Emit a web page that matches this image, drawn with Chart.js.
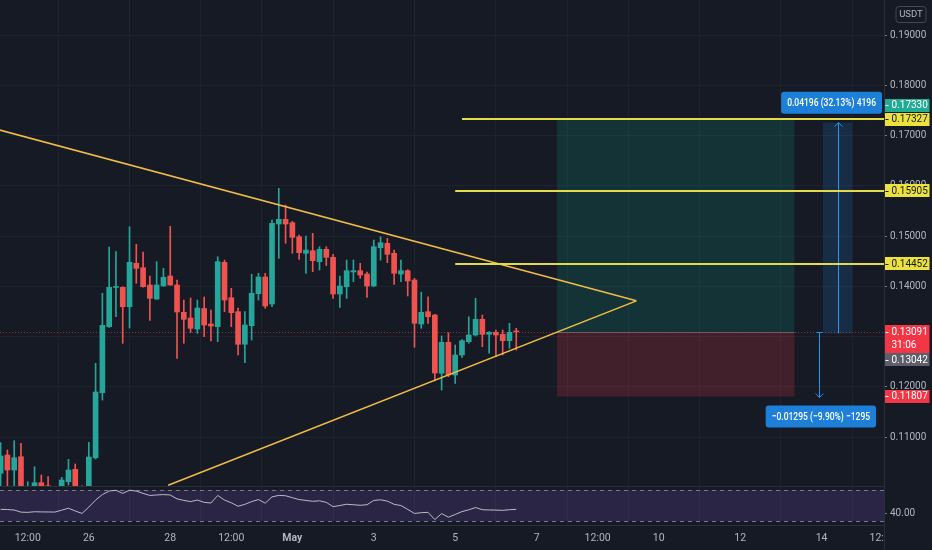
<!DOCTYPE html>
<html>
<head>
<meta charset="utf-8">
<title>USDT pair 4h</title>
<script src="https://cdn.jsdelivr.net/npm/chart.js@4.4.0/dist/chart.umd.min.js"></script>
<style>
  html, body { margin: 0; padding: 0; background: #161a25; }
  #wrap { width: 932px; height: 550px; position: relative; }
</style>
</head>
<body>
<div id="wrap"><canvas id="chart"></canvas></div>
<script>
// 4h bar slots, counted from 26 Apr 00:00 (slot 0)
const slots = [-13, -12, -11, -10, -9, -8, -7, -6, -5, -4, -3, -2, -1,
  0, 1, 2, 3, 4, 5, 6, 7, 8, 9, 10, 11, 12, 13, 14, 15, 16, 17, 18, 19,
  20, 21, 22, 23, 24, 25, 26, 27, 28, 29, 30, 31, 32, 33, 34, 35, 36, 37, 38, 39,
  40, 41, 42, 43, 44, 45, 46, 47, 48, 49, 50, 51, 52, 53, 54, 55, 56, 57, 58, 59,
  60, 61, 62, 63];

const opens = [0.10278, 0.10642, 0.10343, 0.10608, 0.0997, 0.0998, 0.10091, 0.1003, 0.0992, 0.0996, 0.10111, 0.10357, 0.0999,
  0.0995, 0.10588, 0.11882, 0.13195, 0.13975, 0.13979, 0.13593, 0.14457, 0.14369, 0.14025, 0.13746, 0.14005, 0.14204, 0.14025, 0.13482, 0.13368, 0.13149, 0.13557, 0.13249, 0.13195,
  0.14477, 0.13772, 0.13494, 0.12845, 0.13215, 0.13852, 0.14184, 0.13647, 0.15239, 0.15332, 0.15265, 0.14986, 0.14656, 0.14707, 0.14489, 0.14735, 0.14576, 0.13846, 0.13991, 0.14284,
  0.14310, 0.14244, 0.14005, 0.14767, 0.14855, 0.14656, 0.14244, 0.14310, 0.14124, 0.13249, 0.13494, 0.13428, 0.12268, 0.12885, 0.12234, 0.12632, 0.12897, 0.13030, 0.13342, 0.13044,
  0.13084, 0.13044, 0.12917, 0.13100];

const highs = [0.10887, 0.10741, 0.10927, 0.10875, 0.10111, 0.10409, 0.10244, 0.10210, 0.1002, 0.10198, 0.10556, 0.10463, 0.1003,
  0.10895, 0.12467, 0.13860, 0.14781, 0.14688, 0.13990, 0.15185, 0.14835, 0.14682, 0.14204, 0.14489, 0.14357, 0.15193, 0.14124, 0.13726, 0.13766, 0.13726, 0.13786, 0.13527, 0.14588,
  0.14522, 0.13959, 0.13567, 0.13494, 0.14238, 0.14258, 0.14258, 0.15318, 0.15949, 0.15617, 0.15290, 0.15020, 0.15000, 0.15054, 0.14787, 0.14787, 0.14636, 0.14204, 0.14522, 0.14522,
  0.14457, 0.14280, 0.14920, 0.14986, 0.14954, 0.14721, 0.14522, 0.14330, 0.14158, 0.13882, 0.13792, 0.13440, 0.13010, 0.13076, 0.12831, 0.12940, 0.13394, 0.13760, 0.13428, 0.13100,
  0.13130, 0.13130, 0.13263, 0.13163];

const lows = [0.0995, 0.0998, 0.0998, 0.0990, 0.0985, 0.0990, 0.0992, 0.0985, 0.0980, 0.0990, 0.10045, 0.0992, 0.0988,
  0.0990, 0.10562, 0.11736, 0.13179, 0.13394, 0.12865, 0.13169, 0.14059, 0.13980, 0.13319, 0.13740, 0.14000, 0.14020, 0.12566, 0.12865, 0.13080, 0.13064, 0.12996, 0.12911, 0.12897,
  0.13494, 0.13195, 0.12632, 0.12479, 0.12930, 0.13726, 0.13561, 0.13593, 0.14556, 0.14855, 0.14656, 0.14536, 0.14258, 0.14290, 0.14323, 0.14413, 0.13760, 0.13581, 0.13760, 0.14091,
  0.14158, 0.13780, 0.13990, 0.14522, 0.14469, 0.14039, 0.14091, 0.13806, 0.12785, 0.13163, 0.13263, 0.12115, 0.11935, 0.12200, 0.12065, 0.12586, 0.12865, 0.13010, 0.12797, 0.12666,
  0.12598, 0.12632, 0.12765, 0.12731];

const closes = [0.10622, 0.10343, 0.10588, 0.0996, 0.1001, 0.10091, 0.0998, 0.0992, 0.0996, 0.10144, 0.10343, 0.0999, 0.0995,
  0.10602, 0.11896, 0.13223, 0.13979, 0.13982, 0.13593, 0.14477, 0.14357, 0.13991, 0.13760, 0.14025, 0.14178, 0.14025, 0.13488, 0.13342, 0.13163, 0.13567, 0.13229, 0.13209, 0.14489,
  0.13726, 0.13474, 0.12845, 0.13229, 0.13860, 0.14184, 0.13607, 0.15253, 0.15332, 0.15239, 0.14974, 0.14668, 0.14721, 0.14509, 0.14735, 0.14576, 0.13846, 0.14005, 0.14310, 0.14310,
  0.14224, 0.14005, 0.14787, 0.14867, 0.14636, 0.14258, 0.14310, 0.14105, 0.13263, 0.13482, 0.13394, 0.12274, 0.12885, 0.12234, 0.12632, 0.12917, 0.13030, 0.13342, 0.13044, 0.13084,
  0.13030, 0.12917, 0.13084, 0.13091];

const rsiValues = [45.1, 44.8, 44.2, 41.5, 41.2, 42.0, 41.8, 41.7, 41.6, 44.0, 46.5, 43.0, 39.8,
  48.0, 57.0, 64.0, 68.6, 69.5, 65.5, 69.6, 68.5, 65.5, 62.9, 63.5, 64.0, 63.5, 58.5, 56.5, 55.0, 57.0, 54.0, 53.2, 62.9,
  57.0, 53.5, 49.0, 51.5, 55.0, 57.6, 53.0, 61.0, 63.0, 62.5, 60.0, 57.6, 56.5, 55.4, 56.0, 54.0, 48.5, 50.0, 51.6, 51.0,
  50.3, 51.0, 56.5, 57.3, 55.6, 51.5, 50.0, 45.0, 39.8, 40.8, 41.2, 32.0, 39.6, 35.0, 38.5, 42.2, 44.5, 47.4, 44.6, 44.3,
  44.1, 43.8, 44.6, 45.1];

const priceTicks = [0.11, 0.12, 0.13, 0.14, 0.15, 0.16, 0.17, 0.18, 0.19];
const rsiTicks = [40];
const timeTickSlots = [-9, 0, 12, 21, 30, 42, 54, 66, 75, 84, 96, 108, 117];
const timeTickLabels = ['12:00', '26', '28', '12:00', 'May', '3', '5', '7', '12:00', '10', '12', '14', '12:00'];

// triangle trend lines (slot, price)
const upperTrend = [{ x: -14, y: 0.1714 }, { x: 80.7, y: 0.1371 }];
const lowerTrend = [{ x: 11.7, y: 0.1004 }, { x: 80.7, y: 0.1371 }];

// horizontal target levels and the slot where each starts
const levelPrices = [0.17327, 0.15905, 0.14452];
const levelStarts = [55, 54, 54];

// long position tool
const entryPrice = 0.13091;
const targetPrice = 0.17327;
const stopPrice = 0.11807;
const positionSlots = [69, 104];

// measure tool
const measureUp = [0.13060, 0.17256];
const measureUpSlots = [108.2, 112.5];
const measureDown = [0.13080, 0.11785];
const measureDownSlot = 107.6;
const measureUpText = '0.04196 (32.13%) 4196';
const measureDownText = '\u22120.01295 (\u22129.90%) \u22121295';

const lastPrice = 0.13091;
const countdown = '31:06';
const bidPrice = 0.13042;
const measurePrice = 0.17330;

const priceRange = [0.10025, 0.19697];
const rsiRange = [25, 75];
const slotRange = [-13.09, 117.2];

const FONT = 'Roboto, "DejaVu Sans", sans-serif';
const BG = '#161a25';
const UP = '#26a69a';
const DOWN = '#ef5350';
const GRID = '#1e222d';

Chart.defaults.font.family = FONT;
Chart.defaults.font.size = 10;

const candleColors = opens.map((o, i) => closes[i] >= o ? UP : DOWN);

function roundRect(c, x, y, w, h, r) {
  c.beginPath();
  c.moveTo(x + r, y);
  c.lineTo(x + w - r, y);
  c.quadraticCurveTo(x + w, y, x + w, y + r);
  c.lineTo(x + w, y + h - r);
  c.quadraticCurveTo(x + w, y + h, x + w - r, y + h);
  c.lineTo(x + r, y + h);
  c.quadraticCurveTo(x, y + h, x, y + h - r);
  c.lineTo(x, y + r);
  c.quadraticCurveTo(x, y, x + r, y);
  c.closePath();
}

function hline(c, x1, x2, yy) {
  c.beginPath();
  c.moveTo(x1, Math.round(yy) + 0.5);
  c.lineTo(x2, Math.round(yy) + 0.5);
  c.stroke();
}

// narrow text, like the terminal's condensed labels
function narrowText(c, text, cx, cy, squeeze) {
  c.save();
  c.translate(cx, cy);
  c.scale(squeeze, 1);
  c.fillText(text, 0, 0);
  c.restore();
}

function measureLabel(c, text, cx, top, right) {
  const squeeze = 0.74;
  const w = c.measureText(text).width * squeeze + 12;
  const bx = Math.min(cx - w / 2, right - w);
  c.fillStyle = '#1e7fd9';
  roundRect(c, bx, top, w, 22, 3);
  c.fill();
  c.fillStyle = '#ffffff';
  narrowText(c, text, bx + w / 2, top + 11.5, squeeze);
}

const drawings = {
  id: 'drawings',
  beforeDraw(chart) {
    const c = chart.ctx;
    c.save();
    c.fillStyle = BG;
    c.fillRect(0, 0, chart.width, chart.height);
    c.restore();
  },
  beforeDatasetsDraw(chart) {
    const { ctx: c, chartArea: a, scales: { x, y, yr } } = chart;
    c.save();

    // RSI band
    const y70 = yr.getPixelForValue(70), y30 = yr.getPixelForValue(30);
    c.fillStyle = 'rgba(126,87,194,0.2)';
    c.fillRect(a.left, y70, a.right - a.left, y30 - y70);
    c.strokeStyle = '#787b86';
    c.lineWidth = 1;
    c.setLineDash([4, 4]);
    hline(c, a.left, a.right, y70);
    hline(c, a.left, a.right, y30);
    c.setLineDash([]);

    // pane separator
    c.strokeStyle = '#2a2e39';
    hline(c, a.left, a.right, y.bottom);

    // long position boxes
    const p1 = x.getPixelForValue(positionSlots[0]);
    const p2 = x.getPixelForValue(positionSlots[1]);
    const yT = y.getPixelForValue(targetPrice);
    const yE = y.getPixelForValue(entryPrice);
    const yS = y.getPixelForValue(stopPrice);
    c.fillStyle = 'rgba(8,153,129,0.2)';
    c.fillRect(p1, yT, p2 - p1, yE - yT);
    c.fillStyle = 'rgba(242,54,69,0.2)';
    c.fillRect(p1, yE, p2 - p1, yS - yE);
    c.strokeStyle = '#5d606b';
    hline(c, p1, p2, yE);

    // last price dotted line
    c.strokeStyle = 'rgba(242,54,69,0.6)';
    c.setLineDash([1, 2]);
    hline(c, a.left, a.right, y.getPixelForValue(lastPrice));
    c.setLineDash([]);

    // measure tool (up)
    const m1 = x.getPixelForValue(measureUpSlots[0]);
    const m2 = x.getPixelForValue(measureUpSlots[1]);
    const mTop = y.getPixelForValue(measureUp[1]);
    const mBot = y.getPixelForValue(measureUp[0]);
    c.fillStyle = 'rgba(33,150,243,0.16)';
    c.fillRect(m1, mTop, m2 - m1, mBot - mTop);
    const mc = Math.round((m1 + m2) / 2) + 0.5;
    c.strokeStyle = '#2196f3';
    c.lineWidth = 1;
    c.beginPath();
    c.moveTo(mc, mBot); c.lineTo(mc, mTop);
    c.moveTo(mc - 4, mTop + 4); c.lineTo(mc, mTop); c.lineTo(mc + 4, mTop + 4);
    c.stroke();

    // measure tool (down)
    const dx = Math.round(x.getPixelForValue(measureDownSlot)) + 0.5;
    const dTop = y.getPixelForValue(measureDown[0]);
    const dBot = y.getPixelForValue(measureDown[1]);
    c.beginPath();
    c.moveTo(dx - 3, dTop); c.lineTo(dx + 3, dTop);
    c.moveTo(dx, dTop); c.lineTo(dx, dBot);
    c.moveTo(dx - 4, dBot - 4); c.lineTo(dx, dBot); c.lineTo(dx + 4, dBot - 4);
    c.stroke();

    c.restore();
  },
  afterDatasetsDraw(chart) {
    const { ctx: c, chartArea: a, scales: { x, y } } = chart;
    c.save();
    c.strokeStyle = '#e3dc4a';
    c.lineWidth = 2;
    levelPrices.forEach((p, i) => {
      const yy = Math.round(y.getPixelForValue(p));
      c.beginPath();
      c.moveTo(x.getPixelForValue(levelStarts[i]), yy);
      c.lineTo(a.right, yy);
      c.stroke();
    });
    c.restore();
  },
  afterDraw(chart) {
    const { ctx: c, chartArea: a, scales: { x, y } } = chart;
    c.save();

    // cover the clipped corner under the price axis
    c.fillStyle = BG;
    c.fillRect(a.right + 1, a.bottom + 1, chart.width - a.right, chart.height - a.bottom);
    c.strokeStyle = '#2a2e39';
    c.lineWidth = 1;
    c.beginPath();
    c.moveTo(Math.round(a.right) + 0.5, a.bottom);
    c.lineTo(Math.round(a.right) + 0.5, chart.height);
    c.stroke();

    // measure labels
    c.font = '500 11.5px ' + FONT;
    c.textBaseline = 'middle';
    c.textAlign = 'center';
    const upMid = (x.getPixelForValue(measureUpSlots[0]) + x.getPixelForValue(measureUpSlots[1])) / 2;
    measureLabel(c, measureUpText, upMid - 4, y.getPixelForValue(measureUp[1]) - 31, a.right - 2);
    measureLabel(c, measureDownText, x.getPixelForValue(measureDownSlot) + 2, y.getPixelForValue(measureDown[1]) + 8, a.right - 2);

    // price axis labels
    const ax = Math.round(a.right) + 0.5;
    const boxW = chart.width - ax - 3;
    const labels = [
      { v: targetPrice, bg: '#ebe23f', fg: '#131722', fixed: true },
      { v: levelPrices[1], bg: '#ebe23f', fg: '#131722', fixed: true },
      { v: levelPrices[2], bg: '#ebe23f', fg: '#131722', fixed: true },
      { v: lastPrice, bg: '#f23645', fg: '#ffffff', fixed: true, sub: countdown },
      { v: stopPrice, bg: '#f23645', fg: '#ffffff', fixed: true },
      { v: measurePrice, bg: '#22ab94', fg: '#ffffff', fixed: false },
      { v: bidPrice, bg: '#5d606b', fg: '#ffffff', fixed: false }
    ];
    labels.forEach(l => {
      l.y = y.getPixelForValue(l.v);
      l.h = l.sub ? 28 : 13;
      l.top = l.y - 6.5;
    });
    const placed = labels.filter(l => l.fixed);
    labels.filter(l => !l.fixed).forEach(l => {
      placed.forEach(o => {
        if (l.top < o.top + o.h && l.top + l.h > o.top) {
          l.top = l.v >= o.v ? o.top - l.h - 1 : o.top + o.h;
          l.y = l.top + 6.5;
        }
      });
      placed.push(l);
    });
    c.font = '10px ' + FONT;
    c.textAlign = 'left';
    labels.forEach(l => {
      c.fillStyle = l.bg;
      c.fillRect(ax + 0.5, Math.round(l.top), boxW, l.h);
      c.strokeStyle = l.fg;
      hline(c, ax + 1, ax + 4, l.y);
      c.fillStyle = l.fg;
      c.fillText(l.v.toFixed(5), ax + 7, l.y + 0.5);
      if (l.sub) c.fillText(l.sub, ax + 7, l.y + 14);
    });

    // currency tag
    c.strokeStyle = '#434651';
    roundRect(c, ax + 11.5, 6.5, 30, 16, 3);
    c.stroke();
    c.fillStyle = '#b2b5be';
    c.font = '9.5px ' + FONT;
    c.textAlign = 'center';
    c.fillText('USDT', ax + 26.5, 15);

    c.restore();
  }
};

const wickData = slots.map((s, i) => ({ x: s, y: [lows[i], highs[i]] }));
const bodyData = slots.map((s, i) => ({ x: s, y: [opens[i], closes[i]] }));
const rsiData = slots.map((s, i) => ({ x: s, y: rsiValues[i] }));

new Chart(document.getElementById('chart'), {
  type: 'bar',
  data: {
    datasets: [
      {
        type: 'line', data: upperTrend, borderColor: '#f0bc48', borderWidth: 1.5,
        pointRadius: 0, yAxisID: 'y', order: 0
      },
      {
        type: 'line', data: lowerTrend, borderColor: '#f0bc48', borderWidth: 1.5,
        pointRadius: 0, yAxisID: 'y', order: 0
      },
      {
        type: 'line', data: rsiData, borderColor: '#b4bdc4', borderWidth: 1,
        pointRadius: 0, yAxisID: 'yr', order: 0
      },
      {
        data: bodyData, backgroundColor: candleColors, barThickness: 5, minBarLength: 1,
        grouped: false, yAxisID: 'y', order: 1
      },
      {
        data: wickData, backgroundColor: candleColors, barThickness: 1,
        grouped: false, yAxisID: 'y', order: 2
      }
    ]
  },
  options: {
    responsive: true,
    maintainAspectRatio: false,
    animation: false,
    layout: { padding: 0 },
    plugins: { legend: { display: false }, tooltip: { enabled: false } },
    events: [],
    scales: {
      x: {
        type: 'linear',
        min: slotRange[0],
        max: slotRange[1],
        offset: false,
        afterBuildTicks: s => { s.ticks = timeTickSlots.map(v => ({ value: v })); },
        afterFit: s => { s.height = 25; s.paddingLeft = 0; s.paddingRight = 0; },
        ticks: {
          color: '#b2b5be',
          autoSkip: false,
          maxRotation: 0,
          padding: 7,
          font: ctx => ({ family: FONT, size: 10.5, weight: timeTickLabels[ctx.index] === 'May' ? 'bold' : 'normal' }),
          callback: (v, i) => timeTickLabels[i]
        },
        grid: { color: GRID, drawTicks: false },
        border: { display: true, color: '#2a2e39' }
      },
      y: {
        type: 'linear',
        position: 'right',
        stack: 'pane',
        stackWeight: 486,
        min: priceRange[0],
        max: priceRange[1],
        afterBuildTicks: s => { s.ticks = priceTicks.map(v => ({ value: v })); },
        afterFit: s => { s.width = 48; s.paddingTop = 0; s.paddingBottom = 0; },
        ticks: { color: '#b2b5be', padding: 3, font: { size: 10 }, callback: v => v.toFixed(5) },
        grid: { color: GRID, tickLength: 3, tickColor: '#787b86' },
        border: { color: '#2a2e39' }
      },
      yr: {
        type: 'linear',
        position: 'right',
        stack: 'pane',
        stackWeight: 39,
        min: rsiRange[0],
        max: rsiRange[1],
        afterBuildTicks: s => { s.ticks = rsiTicks.map(v => ({ value: v })); },
        afterFit: s => { s.width = 48; s.paddingTop = 0; s.paddingBottom = 0; },
        ticks: { color: '#b2b5be', padding: 3, font: { size: 10 }, callback: v => v.toFixed(2) },
        grid: { drawOnChartArea: false, tickLength: 3, tickColor: '#787b86' },
        border: { color: '#2a2e39' }
      }
    }
  },
  plugins: [drawings]
});
</script>
</body>
</html>
